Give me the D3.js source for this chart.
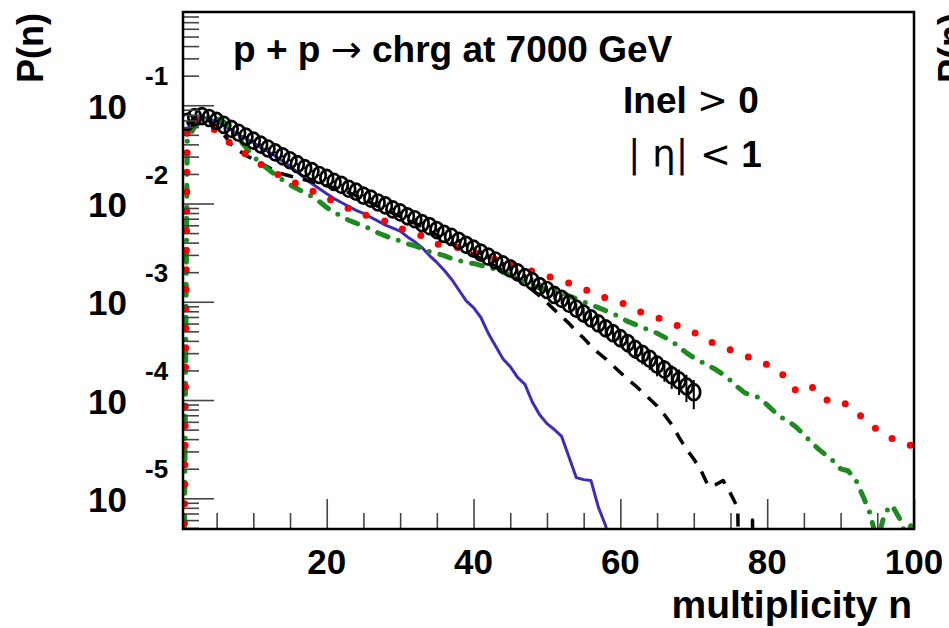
<!DOCTYPE html>
<html>
<head>
<meta charset="utf-8">
<script src="https://cdn.jsdelivr.net/npm/d3@7"></script>
<style>
  body { margin: 0; background: #fff; }
  svg text { font-family: "Liberation Sans", Arial, Helvetica, sans-serif; font-weight: bold; fill: #000; }
  .thin { font-weight: normal; font-family: "DejaVu Sans", sans-serif; }
</style>
</head>
<body>
<div id="viz"></div>
<script>
// values are log10 P(n); null = P(n) is zero

// measured data, n = 1..70
const dataStart = 1;
const dataLogP = [
  -1.17, -1.12, -1.11, -1.13, -1.16, -1.20, -1.24, -1.28, -1.32, -1.36,
  -1.40, -1.44, -1.48, -1.52, -1.56, -1.60, -1.64, -1.67, -1.71, -1.74,
  -1.78, -1.81, -1.85, -1.88, -1.92, -1.95, -1.99, -2.02, -2.06, -2.09,
  -2.13, -2.16, -2.20, -2.23, -2.27, -2.31, -2.34, -2.38, -2.42, -2.46,
  -2.50, -2.54, -2.58, -2.62, -2.66, -2.70, -2.75, -2.79, -2.84, -2.88,
  -2.93, -2.97, -3.02, -3.07, -3.12, -3.17, -3.22, -3.27, -3.32, -3.37,
  -3.42, -3.48, -3.53, -3.58, -3.64, -3.69, -3.75, -3.80, -3.86, -3.92
];
// relative errors of the data points
const dataRelErr = [
  0.02, 0.02, 0.02, 0.02, 0.02, 0.02, 0.02, 0.02, 0.02, 0.02,
  0.02, 0.02, 0.02, 0.02, 0.02, 0.02, 0.02, 0.02, 0.02, 0.02,
  0.025, 0.025, 0.025, 0.025, 0.025, 0.025, 0.025, 0.025, 0.025, 0.025,
  0.03, 0.03, 0.035, 0.035, 0.04, 0.04, 0.045, 0.045, 0.05, 0.05,
  0.055, 0.06, 0.06, 0.065, 0.07, 0.075, 0.08, 0.085, 0.09, 0.095,
  0.10, 0.11, 0.12, 0.13, 0.14, 0.15, 0.16, 0.17, 0.18, 0.19,
  0.20, 0.21, 0.22, 0.23, 0.24, 0.25, 0.27, 0.29, 0.31, 0.33
];

// blue solid, n = 1..59
const blueStart = 1;
const blueLogP = [
  -1.24, -1.14, -1.12, -1.14, -1.17, -1.21, -1.25, -1.30, -1.34, -1.38,
  -1.43, -1.47, -1.52, -1.57, -1.62, -1.68, -1.74, -1.80, -1.85, -1.90,
  -1.95, -1.99, -2.03, -2.07, -2.10, -2.14, -2.18, -2.22, -2.25, -2.28,
  -2.34, -2.39, -2.45, -2.53, -2.60, -2.68, -2.77, -2.88, -2.99, -3.06,
  -3.16, -3.32, -3.45, -3.58, -3.66, -3.77, -3.84, -4.02, -4.15, -4.24,
  -4.30, -4.37, -4.58, -4.79, -4.81, -4.82, -5.09, -5.28, -5.60
];

// black dashed, n = 1..79
const dashStart = 1;
const dashLogP = [
  -1.20, -1.13, -1.13, -1.16, -1.22, -1.30, -1.40, -1.46, -1.51, -1.55,
  -1.59, -1.63, -1.67, -1.70, -1.72, -1.74, -1.76, -1.78, -1.80, -1.82,
  -1.84, -1.86, -1.89, -1.92, -1.96, -1.99, -2.03, -2.06, -2.10, -2.13,
  -2.17, -2.20, -2.24, -2.28, -2.32, -2.36, -2.40, -2.44, -2.48, -2.52,
  -2.56, -2.60, -2.64, -2.68, -2.72, -2.77, -2.82, -2.88, -2.94, -3.01,
  -3.08, -3.15, -3.22, -3.30, -3.37, -3.45, -3.52, -3.58, -3.65, -3.72,
  -3.79, -3.85, -3.92, -3.99, -4.06, -4.15, -4.25, -4.38, -4.50, -4.60,
  -4.72, -4.88, -4.86, -4.82, -4.95, -5.10, null, -5.22, null
];

// red dotted, n = 0..100
const redStart = 0;
const redLogP = [
  null,
  -1.22, -1.15, -1.16, -1.20, -1.27, -1.34, -1.39, -1.44, -1.50, -1.55,
  -1.60, -1.64, -1.69, -1.73, -1.77, -1.80, -1.84, -1.87, -1.91, -1.94,
  -1.98, -2.02, -2.05, -2.09, -2.11, -2.14, -2.16, -2.18, -2.21, -2.25,
  -2.28, -2.31, -2.33, -2.37, -2.41, -2.43, -2.44, -2.45, -2.47, -2.50,
  -2.52, -2.54, -2.57, -2.59, -2.61, -2.63, -2.66, -2.69, -2.71, -2.74,
  -2.76, -2.79, -2.81, -2.84, -2.87, -2.90, -2.94, -2.96, -2.98, -3.00,
  -3.05, -3.08, -3.11, -3.13, -3.16, -3.19, -3.22, -3.25, -3.28, -3.31,
  -3.36, -3.40, -3.43, -3.46, -3.49, -3.52, -3.55, -3.58, -3.61, -3.64,
  -3.68, -3.73, -3.82, -3.91, -3.87, -3.86, -3.93, -4.00, -4.00, -4.00,
  -4.06, -4.11, -4.18, -4.25, -4.30, -4.35, -4.39, -4.42, -4.45, -4.47
];

// green dash-dot, n = 0..100
const greenStart = 0;
const greenLogP = [
  null,
  -1.35, -1.22, -1.15, -1.12, -1.13, -1.17, -1.25, -1.34, -1.43, -1.52,
  -1.59, -1.65, -1.71, -1.76, -1.81, -1.85, -1.89, -1.93, -1.98, -2.04,
  -2.09, -2.13, -2.17, -2.20, -2.23, -2.26, -2.30, -2.33, -2.36, -2.38,
  -2.41, -2.43, -2.46, -2.49, -2.51, -2.53, -2.56, -2.58, -2.60, -2.61,
  -2.63, -2.65, -2.67, -2.70, -2.73, -2.76, -2.80, -2.84, -2.86, -2.87,
  -2.88, -2.91, -2.94, -2.97, -3.00, -3.03, -3.06, -3.09, -3.12, -3.16,
  -3.20, -3.23, -3.26, -3.29, -3.32, -3.36, -3.40, -3.46, -3.52, -3.57,
  -3.61, -3.65, -3.69, -3.74, -3.80, -3.87, -3.93, -3.95, -3.98, -4.05,
  -4.12, -4.18, -4.22, -4.28, -4.35, -4.43, -4.50, -4.56, -4.62, -4.70,
  -4.72, -4.80, -4.97, -5.15, -5.45, -5.15, -5.07, -5.20, -5.40, -5.18
];

// axes
const xDomain = [0.42, 100];
const yDomain = [4.87e-6, 0.889];
const xTickValues = [5, 10, 15, 20, 25, 30, 35, 40, 45, 50, 55, 60, 65, 70, 75, 80, 85, 90, 95, 100];
const xTickLabels = [20, 40, 60, 80, 100];
const yDecades = [-6, -5, -4, -3, -2, -1];
const yMantissas = [1, 2, 3, 4, 5, 6, 7, 8, 9];
const yLabelDecades = [-1, -2, -3, -4, -5];

async function draw() {

  // access data

  const zeroFloor = 1e-12;
  const toPoints = (start, values) => values.map((v, i) => ({
    n: start + i,
    p: v === null ? zeroFloor : Math.pow(10, v)
  }));

  const dataPoints = toPoints(dataStart, dataLogP)
                        .map((d, i) => ({ ...d, err: dataRelErr[i] }));
  const curves = [
    { key: "blue",  points: toPoints(blueStart, blueLogP),   color: "#3b2fb8", width: 3,   dash: null,           cap: "round" },
    { key: "dash",  points: toPoints(dashStart, dashLogP),   color: "#000",    width: 3.5, dash: "13 10",        cap: "butt" },
    { key: "green", points: toPoints(greenStart, greenLogP), color: "#1f8a1f", width: 5,   dash: "11 11 0 11",   cap: "round" },
    { key: "red",   points: toPoints(redStart, redLogP),     color: "#ff0000", width: 7,   dash: "0 19.5",       cap: "round" }
  ];

  const xAccessor = d => d.n;
  const yAccessor = d => d.p;

  // create dimensions

  const dms = {
    width: 949,
    height: 628,
    margins: {
      top: 12,
      bottom: 99,
      left: 183,
      right: 35
    }
  };

  dms.innerWidth = dms.width - dms.margins.left - dms.margins.right;
  dms.innerHeight = dms.height - dms.margins.top - dms.margins.bottom;

  // draw canvas

  const svg = d3.select("#viz")
                  .append("svg")
                    .attr("width", dms.width)
                    .attr("height", dms.height);

  svg.append("defs")
       .append("clipPath")
         .attr("id", "plot-clip")
       .append("rect")
         .attr("width", dms.innerWidth)
         .attr("height", dms.innerHeight);

  const g = svg.append("g")
                 .attr("transform", `translate(${dms.margins.left}, ${dms.margins.top})`);

  // create scales

  const xScale = d3.scaleLinear()
                     .domain(xDomain)
                     .range([0, dms.innerWidth]);

  const yScale = d3.scaleLog()
                     .domain(yDomain)
                     .range([dms.innerHeight, 0]);

  // draw data

  const plot = g.append("g").attr("clip-path", "url(#plot-clip)");

  const lineGenerator = d3.line()
                            .x(d => xScale(xAccessor(d)))
                            .y(d => yScale(yAccessor(d)));

  plot.selectAll("path.curve")
        .data(curves)
        .enter()
        .append("path")
          .attr("class", "curve")
          .attr("d", d => lineGenerator(d.points))
          .attr("fill", "none")
          .attr("stroke", d => d.color)
          .attr("stroke-width", d => d.width)
          .attr("stroke-linecap", d => d.cap)
          .attr("stroke-linejoin", "round")
          .attr("stroke-dasharray", d => d.dash);

  plot.selectAll("line.err")
        .data(dataPoints)
        .enter()
        .append("line")
          .attr("class", "err")
          .attr("x1", d => xScale(xAccessor(d)))
          .attr("x2", d => xScale(xAccessor(d)))
          .attr("y1", d => yScale(d.p * (1 + d.err)))
          .attr("y2", d => yScale(d.p * (1 - d.err)))
          .attr("stroke", "#000")
          .attr("stroke-width", 2);

  plot.selectAll("ellipse")
        .data(dataPoints)
        .enter()
        .append("ellipse")
          .attr("cx", d => xScale(xAccessor(d)))
          .attr("cy", d => yScale(yAccessor(d)))
          .attr("rx", 6.4)
          .attr("ry", 8)
          .attr("fill", "none")
          .attr("stroke", "#000")
          .attr("stroke-width", 2.7);

  // draw peripherals

  const isDecade = v => Math.abs(Math.log10(v) - Math.round(Math.log10(v))) < 1e-9;
  const yTickValues = yDecades.flatMap(k => yMantissas.map(m => m * Math.pow(10, k)))
                              .filter(v => v >= yDomain[0] && v <= yDomain[1]);

  const yAxis = d3.axisRight(yScale)
                    .tickValues(yTickValues)
                    .tickSize(16)
                    .tickSizeOuter(0)
                    .tickFormat("");

  const yAxisGroup = g.append("g").call(yAxis);
  yAxisGroup.select(".domain").remove();
  yAxisGroup.selectAll(".tick line")
              .attr("stroke", "#444")
              .attr("stroke-width", 1.6)
              .filter(d => isDecade(d))
              .attr("x2", 31);

  const xAxis = d3.axisTop(xScale)
                    .tickValues(xTickValues)
                    .tickSize(16)
                    .tickSizeOuter(0)
                    .tickFormat("");

  const xAxisGroup = g.append("g")
                        .attr("transform", `translate(0, ${dms.innerHeight})`)
                        .call(xAxis);
  xAxisGroup.select(".domain").remove();
  xAxisGroup.selectAll(".tick line")
              .attr("stroke", "#444")
              .attr("stroke-width", 1.6)
              .filter(d => d % 20 === 0)
              .attr("y2", -30);

  g.append("rect")
     .attr("width", dms.innerWidth)
     .attr("height", dms.innerHeight)
     .attr("fill", "none")
     .attr("stroke", "#000")
     .attr("stroke-width", 2.5);

  // tick labels

  const yLabels = g.selectAll("g.ylabel")
                     .data(yLabelDecades)
                     .enter()
                     .append("g")
                       .attr("class", "ylabel")
                       .attr("transform", k => `translate(0, ${yScale(Math.pow(10, k))})`);

  yLabels.append("text")
           .attr("x", 127 - dms.margins.left)
           .attr("y", 13.5)
           .attr("text-anchor", "end")
           .style("font-size", "35px")
           .text("10");

  yLabels.append("text")
           .attr("x", 145 - dms.margins.left)
           .attr("y", -20)
           .style("font-size", "26px")
           .text(k => `${k}`);

  g.selectAll("text.xlabel")
     .data(xTickLabels)
     .enter()
     .append("text")
       .attr("class", "xlabel")
       .attr("x", d => xScale(d))
       .attr("y", dms.innerHeight + 45)
       .attr("text-anchor", "middle")
       .style("font-size", "35px")
       .text(d => d);

  // axis titles

  g.append("text")
     .attr("x", dms.innerWidth - 2)
     .attr("y", dms.innerHeight + 89)
     .attr("text-anchor", "end")
     .style("font-size", "39px")
     .text("multiplicity n");

  svg.selectAll("text.ytitle")
       .data([43, 964])
       .enter()
       .append("text")
         .attr("class", "ytitle")
         .attr("transform", x => `translate(${x}, 13) rotate(-90)`)
         .attr("text-anchor", "end")
         .style("font-size", "36px")
         .text("P(n)");

  // annotations

  const title = svg.append("text")
                     .attr("x", 233)
                     .attr("y", 62)
                     .style("font-size", "37px");
  title.append("tspan").text("p + p ");
  title.append("tspan").attr("class", "thin").text("\u2192");
  title.append("tspan").text(" chrg at 7000 GeV");

  const inel = svg.append("text")
                    .attr("x", 623)
                    .attr("y", 113)
                    .style("font-size", "37px");
  inel.append("tspan").text("Inel ");
  inel.append("tspan").attr("class", "thin").text(">");
  inel.append("tspan").text(" 0");

  const eta = svg.append("text")
                   .attr("x", 628)
                   .attr("y", 167)
                   .style("font-size", "37px");
  eta.append("tspan").attr("class", "thin").text("| \u03b7| <");
  eta.append("tspan").text(" 1");
}

draw();
</script>
</body>
</html>
